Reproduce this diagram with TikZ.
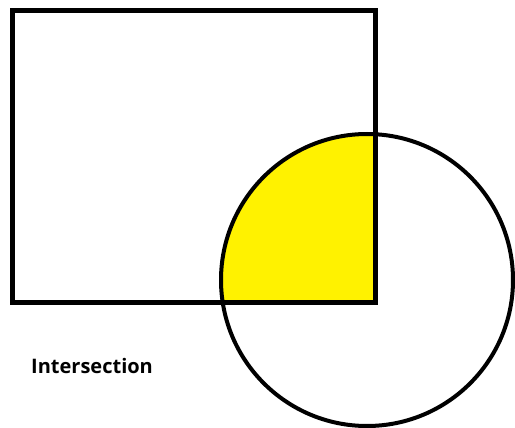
\documentclass[tikz,border=0pt]{standalone}
\usepackage{fontspec}
\setmainfont{Open Sans}
\definecolor{venn}{RGB}{255,242,0}
\begin{document}
\begin{tikzpicture}[x=1pt,y=-1pt,
  rectshape/.style={draw=black,line width=5pt},
  circshape/.style={draw=black,line width=4pt},
  label/.style={font=\bfseries\fontsize{20}{24}\selectfont,anchor=west,inner sep=0pt}]
\useasboundingbox (0,0) rectangle (515,428);
\begin{scope}
  \clip (12.5,10.5) rectangle (375.5,302.5);
  \fill[venn] (367,280) circle (146);
\end{scope}
\draw[circshape] (367,280) circle (146);
\draw[rectshape] (12.5,10.5) rectangle (375.5,302.5);
\node[label] (lbl) at (31,366) {Intersection};
\end{tikzpicture}
\end{document}
